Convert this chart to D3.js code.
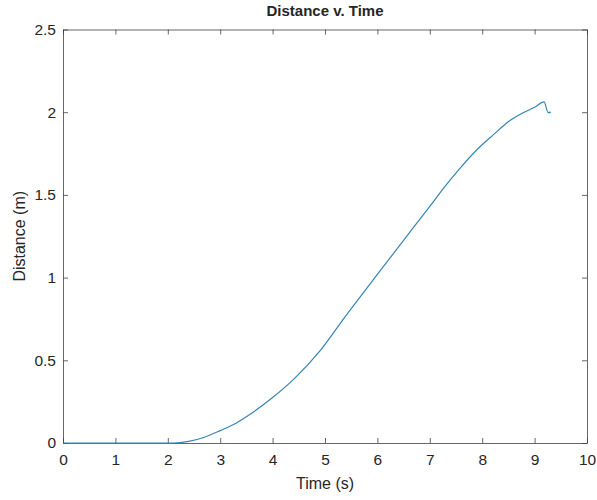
<!DOCTYPE html>
<html>
<head>
<meta charset="utf-8">
<script src="https://cdn.jsdelivr.net/npm/d3@7"></script>
<style>
  body { margin: 0; background: #fff; }
  svg { display: block; }
  text { font-family: "Liberation Sans", Arial, sans-serif; fill: #262626; }
</style>
</head>
<body>
<svg id="chart"></svg>
<script>
// dados
var times     = [0, 2.1, 2.4, 2.7, 3.0, 3.3, 3.6, 4.0, 4.4, 4.9, 5.4, 6.05, 6.62, 7.0, 7.26, 7.6, 7.89, 8.2, 8.53, 8.8, 9.0, 9.18, 9.26, 9.31];
var distances = [0, 0, 0.01, 0.035, 0.075, 0.12, 0.18, 0.275, 0.385, 0.555, 0.77, 1.04, 1.275, 1.43, 1.54, 1.67, 1.77, 1.86, 1.95, 2.0, 2.03, 2.062, 1.997, 2.0];
var xTicks = [0, 1, 2, 3, 4, 5, 6, 7, 8, 9, 10];
var yTicks = [0, 0.5, 1, 1.5, 2, 2.5];

var width = 597, height = 500;
var margin = {top: 29.5, right: 10, bottom: 57, left: 63};
var innerWidth = width - margin.left - margin.right;
var innerHeight = height - margin.top - margin.bottom;

var svg = d3.select("#chart")
  .attr("width", width)
  .attr("height", height);

var g = svg.append("g")
  .attr("transform", "translate(" + margin.left + "," + margin.top + ")");

var x = d3.scaleLinear().domain([0, 10]).range([0, innerWidth]);
var y = d3.scaleLinear().domain([0, 2.5]).range([innerHeight, 0]);

var axisColor = "#404040";
var tickLen = 5;

// eixos com ticks para dentro (estilo MATLAB)
var xAxisG = g.append("g")
  .attr("transform", "translate(0," + innerHeight + ")")
  .call(d3.axisBottom(x).tickValues(xTicks).tickSizeInner(-tickLen).tickSizeOuter(0).tickPadding(11).tickFormat(d3.format("~g")));

var yAxisG = g.append("g")
  .call(d3.axisLeft(y).tickValues(yTicks).tickSizeInner(-tickLen).tickSizeOuter(0).tickPadding(7).tickFormat(d3.format("~g")));

var topAxisG = g.append("g")
  .call(d3.axisTop(x).tickValues(xTicks).tickSizeInner(-tickLen).tickSizeOuter(0).tickFormat(""));

var rightAxisG = g.append("g")
  .attr("transform", "translate(" + innerWidth + ",0)")
  .call(d3.axisRight(y).tickValues(yTicks).tickSizeInner(-tickLen).tickSizeOuter(0).tickFormat(""));

[xAxisG, yAxisG, topAxisG, rightAxisG].forEach(function(a) {
  a.attr("font-size", 15.5).attr("font-family", "'Liberation Sans', Arial, sans-serif");
  a.selectAll("path, line").attr("stroke", axisColor).attr("stroke-width", 0.8);
  a.selectAll("text").attr("fill", "#262626");
});
// remove os textos vazios dos eixos de cima e da direita
topAxisG.selectAll("text").remove();
rightAxisG.selectAll("text").remove();

// linha
var line = d3.line()
  .x(function(d, i) { return x(times[i]); })
  .y(function(d) { return y(d); })
  .curve(d3.curveMonotoneX);

g.append("path")
  .datum(distances)
  .attr("fill", "none")
  .attr("stroke", "#3585b5")
  .attr("stroke-width", 1.2)
  .attr("d", line);

// títulos
svg.append("text")
  .attr("x", margin.left + innerWidth / 2)
  .attr("y", 16)
  .attr("text-anchor", "middle")
  .style("font-size", "15px")
  .style("font-weight", "bold")
  .text("Distance v. Time");

svg.append("text")
  .attr("x", margin.left + innerWidth / 2)
  .attr("y", 489)
  .attr("text-anchor", "middle")
  .style("font-size", "16px")
  .text("Time (s)");

svg.append("text")
  .attr("transform", "translate(25," + (margin.top + innerHeight / 2) + ") rotate(-90)")
  .attr("text-anchor", "middle")
  .style("font-size", "16px")
  .text("Distance (m)");
</script>
</body>
</html>
